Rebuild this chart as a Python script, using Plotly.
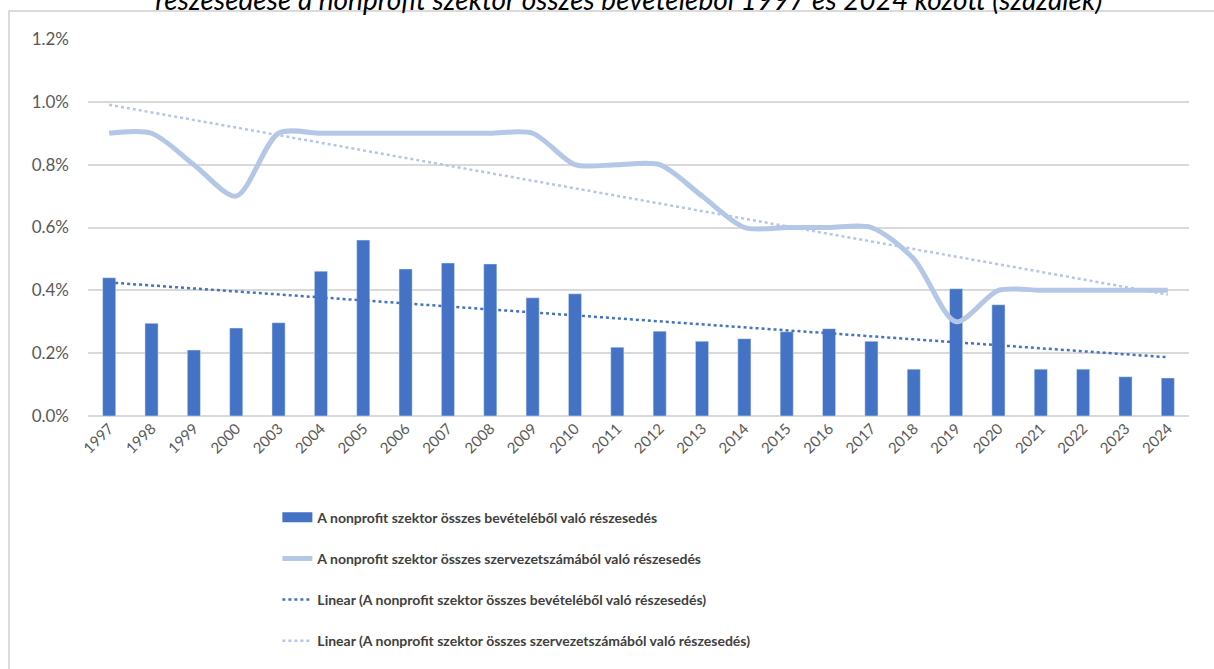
import numpy as np
import plotly.graph_objects as go

years = ["1997", "1998", "1999", "2000", "2003", "2004", "2005", "2006", "2007",
         "2008", "2009", "2010", "2011", "2012", "2013", "2014", "2015", "2016",
         "2017", "2018", "2019", "2020", "2021", "2022", "2023", "2024"]

# share of total revenue of the nonprofit sector (%)
revenue_share = [0.44, 0.295, 0.21, 0.28, 0.297, 0.461, 0.56, 0.468, 0.487,
                 0.484, 0.376, 0.389, 0.219, 0.27, 0.238, 0.246, 0.268, 0.278,
                 0.238, 0.149, 0.405, 0.354, 0.149, 0.149, 0.125, 0.121]

# share of total number of organisations (%)
org_share = [0.9, 0.9, 0.8, 0.7, 0.9, 0.9, 0.9, 0.9, 0.9,
             0.9, 0.9, 0.8, 0.8, 0.8, 0.7, 0.6, 0.6, 0.6,
             0.6, 0.5, 0.3, 0.4, 0.4, 0.4, 0.4, 0.4]

name_rev = "A nonprofit szektor összes bevételéből való részesedés"
name_org = "A nonprofit szektor összes szervezetszámából való részesedés"
title_text = "részesedése a nonprofit szektor összes bevételéből 1997 és 2024 között (százalék)"

dark = "#4472C4"
light = "#B4C7E7"

# linear trendlines over the category index, as Excel does
idx = np.arange(1, len(years) + 1)
k1, b1 = np.polyfit(idx, revenue_share, 1)
k2, b2 = np.polyfit(idx, org_share, 1)
trend_rev = k1 * idx + b1
trend_org = k2 * idx + b2

fig = go.Figure()

fig.add_trace(go.Bar(x=years, y=revenue_share, name=name_rev, marker_color=dark,
                     width=0.31, showlegend=False))
# stand-in entry so the legend shows a wide bar swatch like Excel
fig.add_trace(go.Scatter(x=[None], y=[None], name="<b>" + name_rev + "</b>", mode="lines",
                         line=dict(color=dark, width=10), legendgroup="a"))
fig.add_trace(go.Scatter(x=years, y=org_share, name="<b>" + name_org + "</b>", mode="lines",
                         line=dict(color=light, width=5, shape="spline", smoothing=0.8),
                         legendgroup="b"))
fig.add_trace(go.Scatter(x=years, y=trend_rev, name="<b>Linear (" + name_rev + ")</b>", mode="lines",
                         line=dict(color=dark, width=2.5, dash="dot"), legendgroup="c"))
fig.add_trace(go.Scatter(x=years, y=trend_org, name="<b>Linear (" + name_org + ")</b>", mode="lines",
                         line=dict(color=light, width=2.5, dash="dot"), legendgroup="d"))

fig.update_layout(
    width=1214, height=669,
    margin=dict(l=88, r=25, t=39, b=253),
    paper_bgcolor="white", plot_bgcolor="white",
    font=dict(family="Lato, Liberation Sans, sans-serif", color="#595959"),
    title=dict(text="<i>" + title_text + "</i>", x=0.518, xanchor="center",
               y=1.0, yanchor="middle", yref="container",
               font=dict(size=28, color="#000000")),
    showlegend=True,
    legend=dict(orientation="v", x=0.172, xanchor="left", y=-0.227, yanchor="top",
                tracegroupgap=20, font=dict(size=14, color="#404040", family="Lato, sans-serif"),
                traceorder="grouped"),
    shapes=[dict(type="rect", xref="paper", yref="paper",
                 x0=(9 - 88) / 1101, x1=(1240 - 88) / 1101,
                 y0=-(690 - 416) / 377, y1=(416 - 11) / 377,
                 line=dict(color="#D0D0D0", width=1.5), fillcolor="rgba(0,0,0,0)", layer="below")],
)

fig.update_xaxes(type="category", tickangle=-45, tickfont=dict(size=15, color="#595959"),
                 showgrid=False, showline=False, ticks="")
fig.update_yaxes(range=[0, 1.2], dtick=0.2, tickformat=".1f", ticksuffix="%",
                 tickfont=dict(size=17, color="#595959"), gridcolor="#D9D9D9", gridwidth=1.5,
                 zeroline=True, zerolinecolor="#D9D9D9", zerolinewidth=1.5, showline=False,
                 ticklabelstandoff=18)

fig.write_html("out.html", config={"displayModeBar": False},
               post_script="document.body.style.margin='0';")
